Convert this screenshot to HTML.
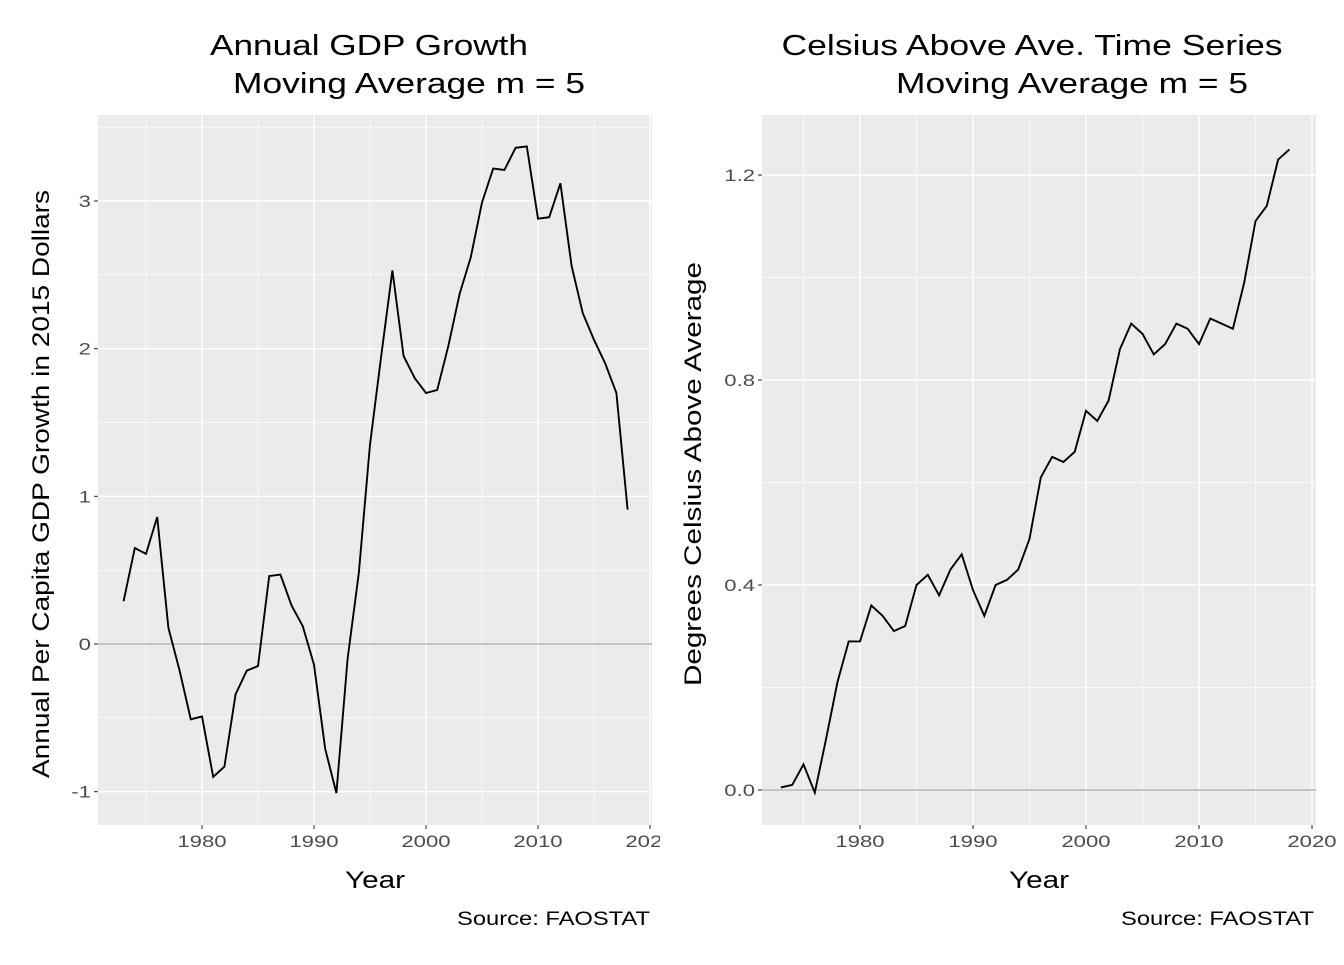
<!DOCTYPE html>
<html><head><meta charset="utf-8"><style>
body{margin:0;background:#fff;}
svg text{font-family:"Liberation Sans",Arial,sans-serif;}
</style></head><body>
<svg id="c" width="1344" height="960" xmlns="http://www.w3.org/2000/svg">
<defs>
<clipPath id="clipL"><rect x="0" y="0" width="660" height="960"/></clipPath>
<clipPath id="clipR"><rect x="672" y="0" width="665" height="960"/></clipPath>
</defs>
<g id="pL" clip-path="url(#clipL)"></g>
<g id="pR" clip-path="url(#clipR)"></g>
</svg>
<script>
const years = [1973,1974,1975,1976,1977,1978,1979,1980,1981,1982,1983,1984,1985,1986,1987,1988,1989,1990,1991,1992,1993,1994,1995,1996,1997,1998,1999,2000,2001,2002,2003,2004,2005,2006,2007,2008,2009,2010,2011,2012,2013,2014,2015,2016,2017,2018];
const gdpValues = [0.29,0.65,0.61,0.86,0.11,-0.18,-0.51,-0.49,-0.90,-0.83,-0.34,-0.18,-0.15,0.46,0.47,0.26,0.12,-0.14,-0.71,-1.01,-0.10,0.48,1.35,1.95,2.53,1.95,1.80,1.70,1.72,2.02,2.37,2.62,2.99,3.22,3.21,3.36,3.37,2.88,2.89,3.12,2.56,2.24,2.06,1.90,1.70,0.91];
const tempValues = [0.005,0.01,0.05,-0.005,0.10,0.21,0.29,0.29,0.36,0.34,0.31,0.32,0.40,0.42,0.38,0.43,0.46,0.39,0.34,0.40,0.41,0.43,0.49,0.61,0.65,0.64,0.66,0.74,0.72,0.76,0.86,0.91,0.89,0.85,0.87,0.91,0.90,0.87,0.92,0.91,0.90,0.99,1.11,1.14,1.23,1.25];
const xTicks = [1980,1990,2000,2010,2020];
const gdpTicks = [-1,0,1,2,3];
const gdpTickLabels = ["-1","0","1","2","3"];
const tempTicks = [0.0,0.4,0.8,1.2];
const tempTickLabels = ["0.0","0.4","0.8","1.2"];

const NS="http://www.w3.org/2000/svg";
function mk(parent,tag,attrs,text){const e=document.createElementNS(NS,tag);for(const k in attrs)e.setAttribute(k,attrs[k]);if(text!==undefined)e.textContent=text;parent.appendChild(e);return e;}
function stretch(el,f){const w=el.getComputedTextLength();el.setAttribute('textLength',(w*f).toFixed(1));el.setAttribute('lengthAdjust','spacingAndGlyphs');}
function fixW(el,w){el.setAttribute('textLength',w);el.setAttribute('lengthAdjust','spacingAndGlyphs');}

function panel(g,cfg){
  const {x0,x1,y0,y1,pxA,pxB,xA,xB,pyA,pyB,yA,yB,vals,yt,ytl,title1,title2,ylab}=cfg;
  const sx=v=>pxA+(v-xA)/(xB-xA)*(pxB-pxA);
  const sy=v=>pyA+(v-yA)/(yB-yA)*(pyB-pyA);
  const bg=mk(g,'rect',{x:x0,y:y0,width:x1-x0,height:y1-y0,fill:'#ebebeb'});
  
  
  const step=yt[1]-yt[0];
  for(let i=-1;i<yt.length;i++){const v=yt[0]+step*(i+0.5);const y=sy(v);if(y>y0&&y<y1){const l=mk(g,'line',{x1:x0,x2:x1,y1:y,y2:y,stroke:'#fff','stroke-width':0.7});
    
    }}
  for(let i=-1;i<xTicks.length;i++){const v=xTicks[0]+10*i+5;const x=sx(v);if(x>x0&&x<x1){const l=mk(g,'line',{x1:x,x2:x,y1:y0,y2:y1,stroke:'#fff','stroke-width':0.7});
    
    }}
  yt.forEach((v,i)=>{const y=sy(v);
    const l=mk(g,'line',{x1:x0,x2:x1,y1:y,y2:y,stroke:'#fff','stroke-width':1.4});
    
    
    mk(g,'line',{x1:x0-4,x2:x0,y1:y,y2:y,stroke:'#333','stroke-width':1.1});
    const t=mk(g,'text',{x:x0-7,y:y+6,'text-anchor':'end','font-size':17,fill:'#4d4d4d'},ytl[i]);
    
    
    stretch(t,1.3);
  });
  xTicks.forEach(v=>{const x=sx(v);
    const l=mk(g,'line',{x1:x,x2:x,y1:y0,y2:y1,stroke:'#fff','stroke-width':1.4});
    
    
    mk(g,'line',{x1:x,x2:x,y1:y1,y2:y1+4,stroke:'#333','stroke-width':1.1});
    const t=mk(g,'text',{x:x,y:y1+22,'text-anchor':'middle','font-size':17,fill:'#4d4d4d'},String(v));
    
    
    stretch(t,1.3);
  });
  const z=mk(g,'line',{x1:x0,x2:x1,y1:sy(0),y2:sy(0),stroke:'#b3b3b3','stroke-width':1.6});
  
  
  const d=years.map((yr,i)=>(i?'L':'M')+sx(yr).toFixed(1)+','+sy(vals[i]).toFixed(1)).join('');
  const p=mk(g,'path',{d:d,fill:'none',stroke:'#000','stroke-width':1.9});
  
  
  const t1=mk(g,'text',{x:cfg.t1x,y:55,'text-anchor':'middle','font-size':29,fill:'#000'},title1);
  
  
  fixW(t1,cfg.t1w);
  const t2=mk(g,'text',{x:cfg.t2x,y:93,'text-anchor':'middle','font-size':29,fill:'#000'},title2);
  
  
  fixW(t2,352);
  const xl=mk(g,'text',{x:cfg.xlx,y:888,'text-anchor':'middle','font-size':24,fill:'#000'},'Year');
  
  
  fixW(xl,60);
  const yl=mk(g,'text',{x:0,y:0,'text-anchor':'middle','font-size':24,fill:'#000',transform:`translate(${cfg.ylx},${cfg.ylc}) rotate(-90)`},ylab);
  
  
  fixW(yl,cfg.ylw);
  const cap=mk(g,'text',{x:x1-2,y:925,'text-anchor':'end','font-size':19,fill:'#000'},'Source: FAOSTAT');
  
  
  fixW(cap,193);
}
panel(document.getElementById('pL'),{x0:98,x1:652,y0:115,y1:825,pxA:202,pxB:650,xA:1980,xB:2020,pyA:644,pyB:201,yA:0,yB:3,vals:gdpValues,yt:gdpTicks,ytl:gdpTickLabels,title1:'Annual GDP Growth',title2:'Moving Average m = 5',t1x:369,t1w:318,t2x:409,xlx:375,ylx:49,ylc:484,ylw:588,ylab:'Annual Per Capita GDP Growth in 2015 Dollars'});
panel(document.getElementById('pR'),{x0:762,x1:1316,y0:115,y1:825,pxA:860,pxB:1312,xA:1980,xB:2020,pyA:790,pyB:175,yA:0,yB:1.2,vals:tempValues,yt:tempTicks,ytl:tempTickLabels,title1:'Celsius Above Ave. Time Series',title2:'Moving Average m = 5',t1x:1032,t1w:501,t2x:1072,xlx:1039,ylx:701,ylc:474,ylw:424,ylab:'Degrees Celsius Above Average'});
</script>
</body></html>
